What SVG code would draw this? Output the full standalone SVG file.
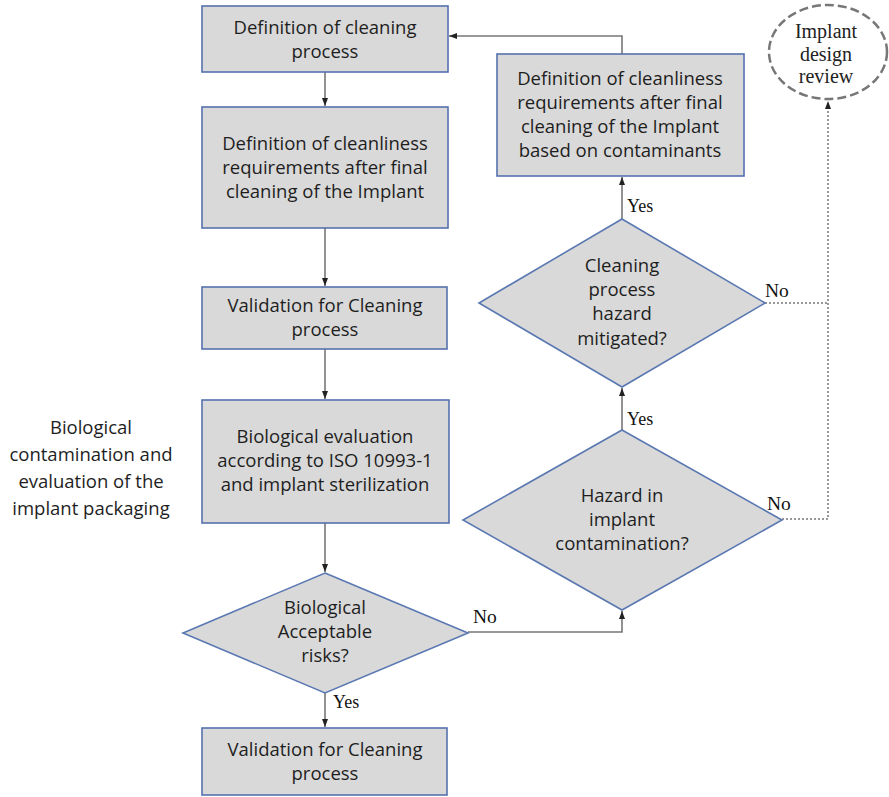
<svg xmlns="http://www.w3.org/2000/svg" width="889" height="797" viewBox="0 0 889 797">
  <style>
    .box { fill: #d9d9d9; stroke: #5471ad; stroke-width: 1.6; }
    .dia { fill: #d9d9d9; stroke: #5a78b2; stroke-width: 1.6; }
    .lbl { font-family: "Open Sans", "Noto Sans", sans-serif; font-size: 18.5px; fill: #1e1e1e; text-anchor: middle; }
    .side { font-family: "Open Sans", "Noto Sans", sans-serif; font-size: 18.5px; fill: #1e1e1e; text-anchor: middle; }
    .yn { font-family: "Liberation Serif", "Times New Roman", serif; font-size: 18px; fill: #111; }
    .no { font-size: 19.5px; }
    .rev { font-family: "Liberation Serif", "Times New Roman", serif; font-size: 20px; fill: #222; text-anchor: middle; }
    .link { fill: none; stroke: #777; stroke-width: 1.6; }
    .dot { fill: none; stroke: #999; stroke-width: 2; stroke-dasharray: 2 2; }
  </style>
  <defs>
    <marker id="arrow" markerUnits="userSpaceOnUse" markerWidth="10" markerHeight="10" refX="8" refY="4" orient="auto">
      <path d="M0,1 L8,4 L0,7 Z" fill="#222"/>
    </marker>
  </defs>

  <!-- connectors -->
  <g id="connectors">
    <path class="link" d="M325,72 V106" marker-end="url(#arrow)"/>
    <path class="link" d="M325,228 V286" marker-end="url(#arrow)"/>
    <path class="link" d="M325,349 V399" marker-end="url(#arrow)"/>
    <path class="link" d="M325,523 V572" marker-end="url(#arrow)"/>
    <path class="link" d="M325,693 V727" marker-end="url(#arrow)"/>
    <path class="link" d="M468,632 H622 V611" marker-end="url(#arrow)"/>
    <path class="link" d="M622,430 V388" marker-end="url(#arrow)"/>
    <path class="link" d="M622,219 V177" marker-end="url(#arrow)"/>
    <path class="link" d="M622,54 V36 H449" marker-end="url(#arrow)"/>
    <path class="dot" d="M765,303 H828"/>
    <path class="dot" d="M782,519 H828 V101" marker-end="url(#arrow)"/>
    <text class="yn" x="627" y="212">Yes</text>
    <text class="yn" x="627" y="425">Yes</text>
    <text class="yn" x="333" y="708">Yes</text>
    <text class="yn no" x="765" y="297">No</text>
    <text class="yn no" x="767" y="510">No</text>
    <text class="yn no" x="473" y="623">No</text>
  </g>

  <g id="def-cleaning">
    <rect class="box" x="202" y="6" width="246" height="66"/>
    <text class="lbl" x="325" y="34">Definition of cleaning</text>
    <text class="lbl" x="325" y="58">process</text>
  </g>

  <g id="def-cleanliness">
    <rect class="box" x="202" y="107" width="246" height="121"/>
    <text class="lbl" x="325" y="150">Definition of cleanliness</text>
    <text class="lbl" x="325" y="174">requirements after final</text>
    <text class="lbl" x="325" y="198">cleaning of the Implant</text>
  </g>

  <g id="validation-1">
    <rect class="box" x="202" y="287" width="245" height="62"/>
    <text class="lbl" x="325" y="312">Validation for Cleaning</text>
    <text class="lbl" x="325" y="336">process</text>
  </g>

  <g id="bio-eval">
    <rect class="box" x="202" y="400" width="247" height="123"/>
    <text class="lbl" x="325" y="443">Biological evaluation</text>
    <text class="lbl" x="325" y="467">according to ISO 10993-1</text>
    <text class="lbl" x="325" y="491">and implant sterilization</text>
  </g>

  <g id="bio-risk">
    <polygon class="dia" points="325,573 468,633 325,693 183,633"/>
    <text class="lbl" x="325" y="614">Biological</text>
    <text class="lbl" x="325" y="638">Acceptable</text>
    <text class="lbl" x="325" y="662">risks?</text>
  </g>

  <g id="validation-2">
    <rect class="box" x="202" y="728" width="245" height="67"/>
    <text class="lbl" x="325" y="756">Validation for Cleaning</text>
    <text class="lbl" x="325" y="780">process</text>
  </g>

  <g id="hazard">
    <polygon class="dia" points="622,430 782,520 622,610 463,520"/>
    <text class="lbl" x="622" y="502">Hazard in</text>
    <text class="lbl" x="622" y="526">implant</text>
    <text class="lbl" x="622" y="550">contamination?</text>
  </g>

  <g id="mitigated">
    <polygon class="dia" points="622,219 765,303 622,387 479,303"/>
    <text class="lbl" x="622" y="272">Cleaning</text>
    <text class="lbl" x="622" y="296">process</text>
    <text class="lbl" x="622" y="320">hazard</text>
    <text class="lbl" x="622" y="345">mitigated?</text>
  </g>

  <g id="def-contaminants">
    <rect class="box" x="497" y="54" width="247" height="122"/>
    <text class="lbl" x="620" y="85">Definition of cleanliness</text>
    <text class="lbl" x="620" y="109">requirements after final</text>
    <text class="lbl" x="620" y="133">cleaning of the Implant</text>
    <text class="lbl" x="620" y="157">based on contaminants</text>
  </g>

  <g id="design-review">
    <ellipse cx="828" cy="52" rx="59" ry="47" fill="#fff" stroke="#777" stroke-width="2.5" stroke-dasharray="9 4"/>
    <text class="rev" x="826" y="38">Implant</text>
    <text class="rev" x="826" y="61">design</text>
    <text class="rev" x="826" y="83">review</text>
  </g>

  <g id="side-note">
    <text class="side" x="91" y="434">Biological</text>
    <text class="side" x="91" y="461">contamination and</text>
    <text class="side" x="91" y="488">evaluation of the</text>
    <text class="side" x="91" y="515">implant packaging</text>
  </g>
</svg>
